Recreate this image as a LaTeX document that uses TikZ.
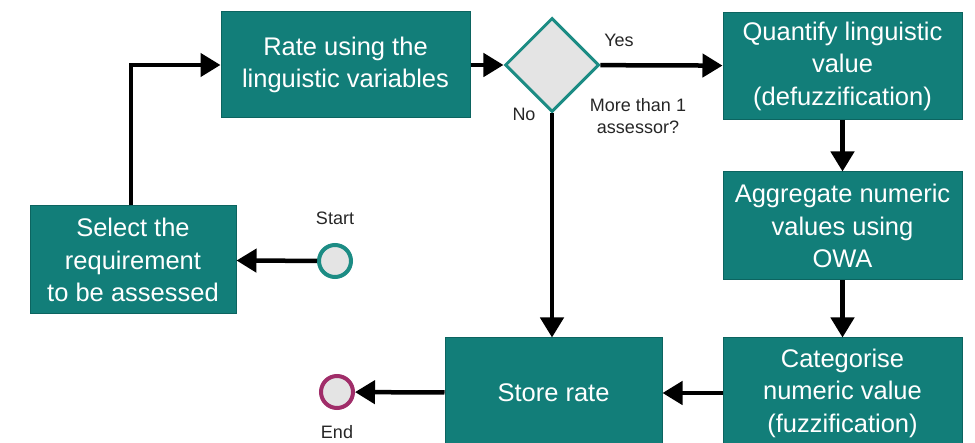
\documentclass[tikz,border=0pt]{standalone}
\usepackage{fontspec}
\setmainfont{Liberation Sans}
\usetikzlibrary{arrows.meta,shapes.geometric}
\definecolor{tealfill}{RGB}{18,126,121}
\definecolor{tealedge}{RGB}{12,100,96}
\definecolor{tealring}{RGB}{28,140,132}
\definecolor{endring}{RGB}{160,45,105}
\definecolor{lightgray}{RGB}{228,228,228}
\begin{document}
\begin{tikzpicture}[x=1pt,y=-1pt,
  box/.style={draw=tealedge, fill=tealfill, text=white, line width=1pt,
    font=\fontsize{25.5}{32.5}\selectfont, align=center, inner sep=0pt},
  decision/.style={diamond, draw=tealring, fill=lightgray, line width=3pt,
    minimum width=94, minimum height=94, inner sep=0pt},
  event/.style={circle, fill=lightgray, line width=4pt, minimum size=32, inner sep=0pt},
  lbl/.style={font=\fontsize{18}{22}\selectfont, align=center, text=black!85},
  arr/.style={line width=4.5pt, -{Triangle[length=20pt,width=23pt]}}]
\useasboundingbox (0,0) rectangle (975,443);
\clip (0,0) rectangle (975,443);
\node[box, minimum width=206, minimum height=108] (sel) at (133,260) {Select the\\requirement\\to be assessed};
\node[box, minimum width=249, minimum height=106] (rate) at (345.5,65) {Rate using the\\linguistic variables};
\node[decision] (dec) at (552,65) {};
\node[box, minimum width=239, minimum height=107] (quant) at (842.5,66) {Quantify linguistic\\value\\(defuzzification)};
\node[box, minimum width=239, minimum height=108] (agg) at (842.5,226) {Aggregate numeric\\values using\\OWA};
\node[box, minimum width=239, minimum height=110] (cat) at (842.5,393) {Categorise\\numeric value\\(fuzzification)};
\node[box, minimum width=217, minimum height=110] (store) at (553.5,393) {Store rate};
\node[event, draw=tealring] (start) at (335,261) {};
\node[event, draw=endring] (end) at (337,392) {};
\node[lbl] (startlbl) at (335,218) {Start};
\node[lbl] (endlbl) at (337,432) {End};
\node[lbl] (yes) at (619,40) {Yes};
\node[lbl] (no) at (524,114) {No};
\node[lbl] (q) at (638,116) {More than 1\\assessor?};
\draw[arr] (start) -- (sel);
\draw[arr] (sel.north -| 131,0) |- (rate.west);
\draw[arr] (rate) -- (dec);
\draw[arr] (dec) -- (quant);
\draw[arr] (dec.south) -- (dec.south |- store.north);
\draw[arr] (quant) -- (agg);
\draw[arr] (agg) -- (cat);
\draw[arr] (cat) -- (store);
\draw[arr] (store) -- (end);
\end{tikzpicture}
\end{document}
